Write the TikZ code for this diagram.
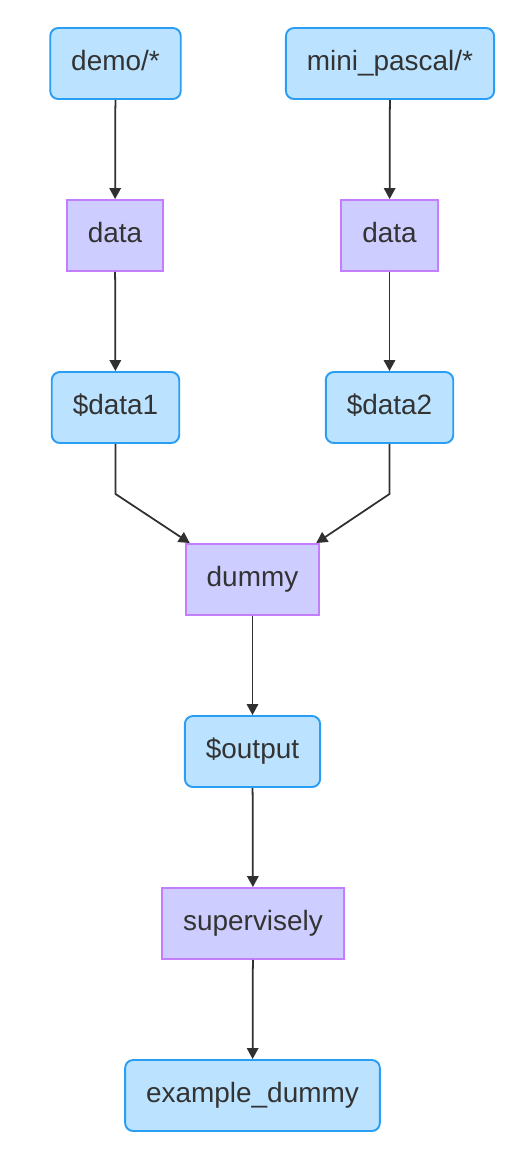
\documentclass[tikz,border=0pt]{standalone}
\usepackage{fontspec}
\setmainfont{Liberation Sans}
\usetikzlibrary{arrows,arrows.meta,positioning}
\definecolor{bluefill}{HTML}{BBE3FF}
\definecolor{blueline}{HTML}{2A9DF4}
\definecolor{purpfill}{HTML}{CDCDFF}
\definecolor{purpline}{HTML}{C47DFF}
\definecolor{txt}{HTML}{333333}
\begin{document}
\begin{tikzpicture}[x=0.02cm,y=-0.02cm]
    \tikzset{every node/.style={font=\fontsize{15.9}{18}\selectfont,text=txt,minimum height=1.42cm,inner xsep=0.42cm,text height=1.4ex,text depth=0pt}}
    \tikzset{file/.style={draw=blueline,fill=bluefill,line width=1.1pt,rounded corners=0.16cm}}
    \tikzset{task/.style={draw=purpline,fill=purpfill,line width=1.1pt}}
    \tikzset{edge/.style={draw=txt!95!black,line width=1pt,-{Triangle[width=0.23cm,length=0.22cm]}}}
    \useasboundingbox (0,0) rectangle (526,1170);
    % sources
    \node[file] (demo) at (115.5,63.5) {demo/*};
    \node[file] (mini) at (390,63.5) {mini\_pascal/*};
    % data import
    \node[task] (dataA) at (115,235.5) {data};
    \node[task] (dataB) at (389.5,235.5) {data};
    \node[file] (d1) at (115.5,407.5) {\$data1};
    \node[file] (d2) at (389.5,407.5) {\$data2};
    % merge
    \node[task] (dummy) at (252.5,579.5) {dummy};
    \node[file] (out) at (252.5,751.5) {\$output};
    \node[task] (sup) at (253,923.5) {supervisely};
    \node[file] (ex) at (252.5,1095.5) {example\_dummy};
    % edges
    \draw[edge] (demo) -- (dataA);
    \draw[edge] (mini) -- (dataB);
    \draw[edge] (dataA) -- (d1);
    \draw[edge] (dataB) -- (d2);
    \draw[edge] (d1.south) -- ++(0,50) -- ([xshift=0.1cm]dummy.north west);
    \draw[edge] (d2.south) -- ++(0,50) -- ([xshift=-0.08cm]dummy.north east);
    \draw[edge] (dummy) -- (out);
    \draw[edge] (out) -- (sup);
    \draw[edge] (sup) -- (ex);
\end{tikzpicture}
\end{document}
